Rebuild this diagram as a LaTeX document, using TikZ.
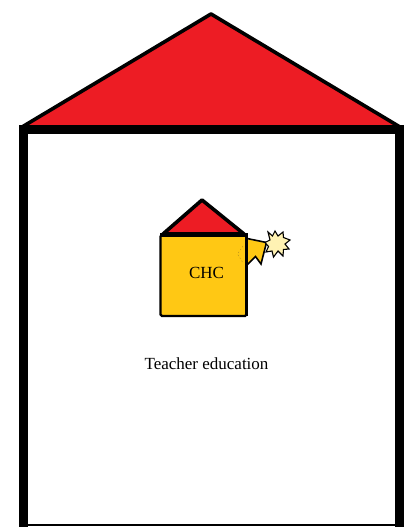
\documentclass[tikz,border=0pt]{standalone}
\usepackage{fontspec}
\setmainfont{Liberation Serif}
\definecolor{roofred}{HTML}{ED1C24}
\definecolor{chcyellow}{HTML}{FFC814}
\definecolor{starfill}{HTML}{FFF2B3}
\definecolor{faintmark}{HTML}{B8901A}
\tikzset{
  px/.style={x=1pt,y=-1pt},
  roofshape/.style={draw=black,fill=roofred,line width=3.6pt,line join=round},
  label/.style={inner sep=0pt,font=\fontsize{17}{20}\selectfont,text=black},
}
\begin{document}
\begin{tikzpicture}[px]
\useasboundingbox (0,0) rectangle (406,527);
% big house
\coordinate (rA) at (211,14);
\coordinate (rL) at (22,127);
\coordinate (rR) at (400,127);
\draw[roofshape] (rL) -- (rA) -- (rR) -- cycle;
\fill[black] (19,125) rectangle (404,134);
\fill[black] (19,125) rectangle (28,527);
\fill[black] (395,125) rectangle (404,527);
\fill[black] (19,524) rectangle (404,526);
% small house
\draw[fill=chcyellow,line width=2.2pt,rounded corners=1.5pt] (160.5,235) rectangle (246.5,316);
\coordinate (sA) at (202,200);
\coordinate (sL) at (163,234);
\coordinate (sR) at (244,234);
\draw[roofshape] (sL) -- (sA) -- (sR) -- cycle;
\fill[black] (159.5,233) rectangle (247.5,237);
% arrow
\draw[white,line width=2pt] (248,236.5) -- (268,240.5);
\fill[chcyellow] (246,239) -- (266.5,243) -- (261,264) -- (255.5,256.5) -- (246,266) -- cycle;
\draw[black,line width=1.6pt,line join=miter] (247,238.5) -- (266.5,242.5) -- (261,264) -- (255.5,256.5) -- (246,266);
\draw[black,line width=2.2pt] (246.5,236) -- (246.5,316);
\draw[faintmark,line width=0.4pt,dash pattern=on 1.5pt off 2pt] (243,246) -- (237.5,254) -- (243,263);
% burst
\draw[fill=starfill,draw=black,line width=1.1pt,line join=miter]
  (268,232) -- (272.5,236) -- (275,231) -- (278,236) -- (283,232) -- (283.5,237.5) -- (290,240) -- (285,244)
  -- (289,249) -- (283.5,249.5) -- (283,256) -- (278,251) -- (273.5,257) -- (272,251) -- (266,252) -- (268.5,246.5) -- (265,242.5) -- (270,240) -- cycle;
% text
\node[label] (chc) at (206.5,273) {CHC};
\node[label] (edu) at (206.5,363.5) {Teacher education};
\end{tikzpicture}
\end{document}
